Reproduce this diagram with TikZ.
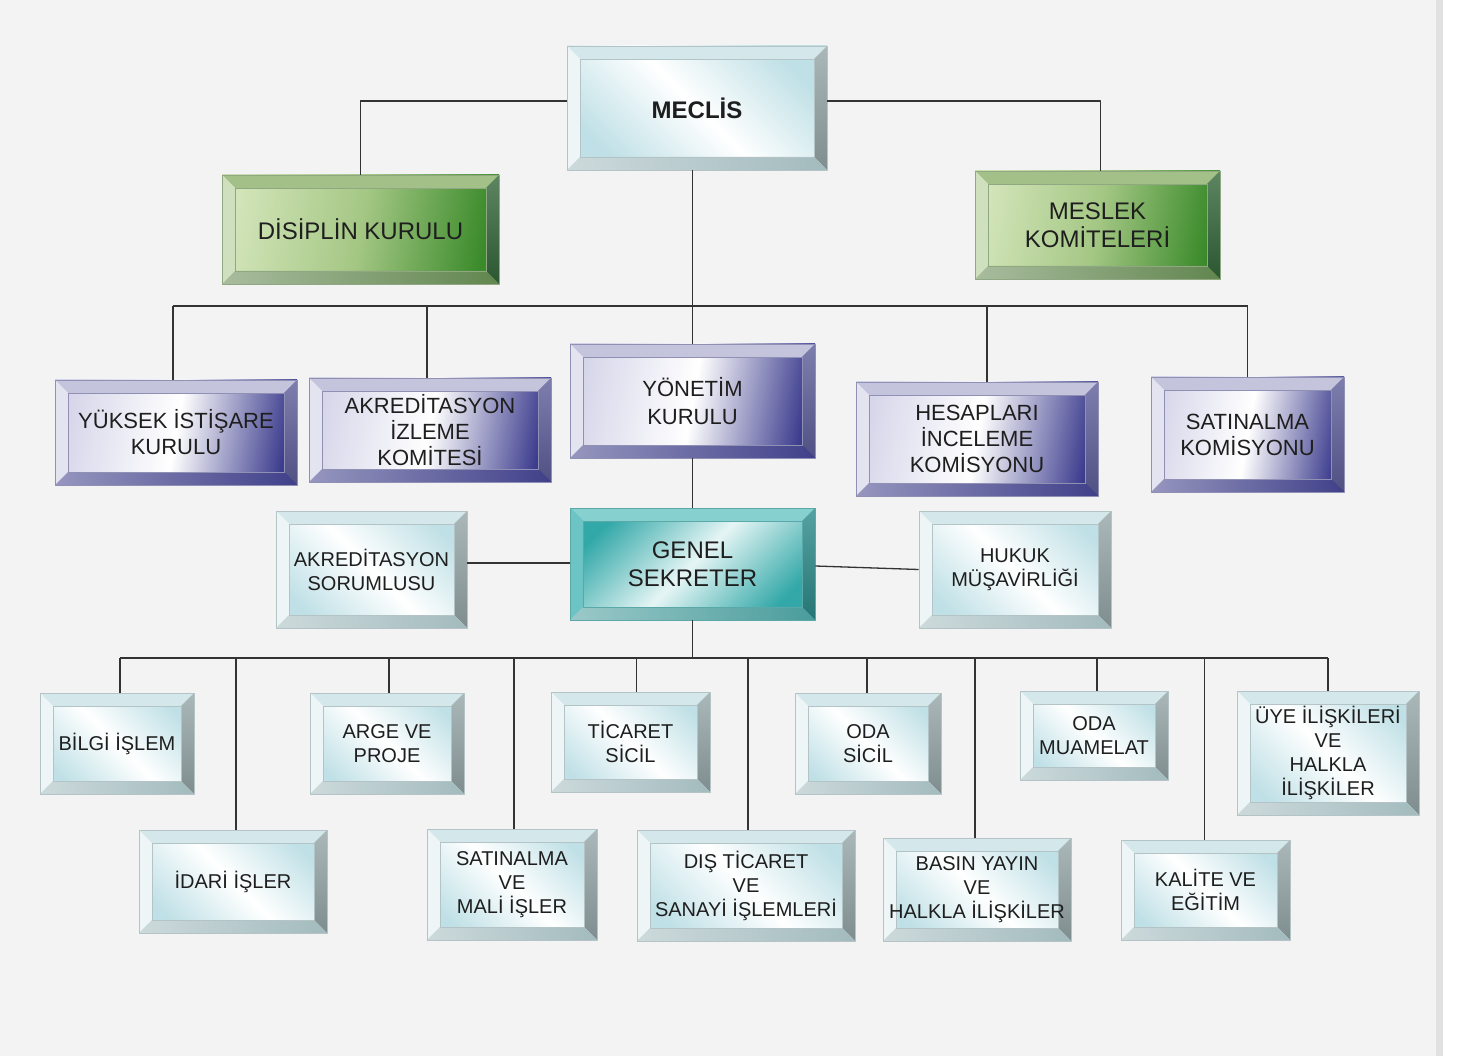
\documentclass[tikz,border=0pt]{standalone}
\usepackage{fontspec}
\setmainfont{Liberation Sans}
% renkler
\definecolor{pagebg}{HTML}{F3F3F3}
\definecolor{stripbg}{HTML}{E1E1E1}
\definecolor{txt}{HTML}{1E1E1E}
\definecolor{wire}{HTML}{333333}
\definecolor{iceA}{HTML}{BFE0E6}\definecolor{iceT}{HTML}{D4E7EA}\definecolor{iceL}{HTML}{EEF5F6}
\definecolor{iceR}{HTML}{95A6A8}\definecolor{iceD}{HTML}{A3BBBE}\definecolor{iceedge}{HTML}{B4C4C6}
\definecolor{grnA}{HTML}{D2E4B8}\definecolor{grnM}{HTML}{A4C784}\definecolor{grnB}{HTML}{3A8A2A}
\definecolor{grnT}{HTML}{A2C088}\definecolor{grnL}{HTML}{CFE0BF}\definecolor{grnR}{HTML}{34663A}
\definecolor{grnD}{HTML}{62864F}\definecolor{grnedge}{HTML}{8FA882}
\definecolor{purA}{HTML}{D6D6EA}\definecolor{purB}{HTML}{3C3C8E}
\definecolor{purT}{HTML}{C4C4DC}\definecolor{purL}{HTML}{E4E4F0}\definecolor{purR}{HTML}{5E5E9A}
\definecolor{purD}{HTML}{40408A}\definecolor{puredge}{HTML}{9090B4}
\definecolor{tealA}{HTML}{33A8A8}\definecolor{tealM}{HTML}{E6F5F5}
\definecolor{tealT}{HTML}{86D0D0}\definecolor{tealL}{HTML}{6CC4C4}\definecolor{tealR}{HTML}{2C8A8A}
\definecolor{tealD}{HTML}{4A9C9C}\definecolor{tealedge}{HTML}{5AA8A8}
% kabartma kenarlari
\newcommand\bevelfaces[1]{%
  \path (path picture bounding box.north west) coordinate (b1)
        (path picture bounding box.north east) coordinate (b2)
        (path picture bounding box.south east) coordinate (b3)
        (path picture bounding box.south west) coordinate (b4)
        ([xshift=13pt,yshift=-13pt]path picture bounding box.north west) coordinate (c1)
        ([xshift=-13pt,yshift=-13pt]path picture bounding box.north east) coordinate (c2)
        ([xshift=-13pt,yshift=13pt]path picture bounding box.south east) coordinate (c3)
        ([xshift=13pt,yshift=13pt]path picture bounding box.south west) coordinate (c4);
  \fill[#1T] (b1) -- (b2) -- (c2) -- (c1) -- cycle;
  \fill[#1L] (b1) -- (c1) -- (c4) -- (b4) -- cycle;
  \shade[top color=#1R!80!white, bottom color=#1R!85!black] (b2) -- (b3) -- (c3) -- (c2) -- cycle;
  \shade[left color=#1D!55!white, right color=#1D] (b4) -- (c4) -- (c3) -- (b3) -- cycle;
  \draw[#1edge, line width=0.4pt] (c1) rectangle (c3);
}
\tikzset{
  bevelbox/.style={rectangle, inner sep=0pt, align=center, text=txt, draw=#1edge,
    line width=0.6pt, path picture={\bevelfaces{#1}}},
  icebox/.style={bevelbox=ice, left color=iceA, right color=iceA, middle color=white, shading angle=135},
  grnbox/.style={bevelbox=grn, left color=grnA, right color=grnB, middle color=grnM, shading angle=80},
  purbox/.style={bevelbox=pur, left color=purA, right color=purB, middle color=white, shading angle=80},
  tealbox/.style={bevelbox=teal, left color=tealA, right color=tealA, middle color=tealM, shading angle=45},
  txtL/.style={font=\fontsize{24}{28}\selectfont},
  txtM/.style={font=\fontsize{22}{26}\selectfont},
  txtS/.style={font=\fontsize{20}{24}\selectfont},
  link/.style={draw=wire, line width=1.3pt},
}
\begin{document}
\begin{tikzpicture}[x=1pt, y=-1pt, line join=round]
  \fill[pagebg] (0,0) rectangle (1436,1056);
  \fill[stripbg] (1436,0) rectangle (1443,1056);
  \fill[white] (1443,0) rectangle (1462,1056);
  \useasboundingbox (0,0) rectangle (1462,1056);
  \coordinate (busA) at (0,306);
  \coordinate (busB) at (0,658);
  % ust kisim
  \node[icebox, txtL, minimum width=260pt, minimum height=124pt] (meclis) at (697,108) {\textbf{MECLİS}};
  \node[grnbox, txtL, minimum width=277pt, minimum height=109pt] (disiplin) at (360.5,229.5) {DİSİPLİN KURULU};
  \node[grnbox, txtL, minimum width=245pt, minimum height=108pt] (meslek) at (1097.5,225) {MESLEK\\KOMİTELERİ};
  % kurullar
  \node[purbox, txtM, minimum width=242pt, minimum height=105pt] (yuksek) at (176,432.5) {YÜKSEK İSTİŞARE\\KURULU};
  \node[purbox, txtM, minimum width=242pt, minimum height=104pt] (akrizl) at (430,430) {AKREDİTASYON\\İZLEME\\KOMİTESİ};
  \node[purbox, txtM, font=\fontsize{22}{28}\selectfont, minimum width=245pt, minimum height=114pt] (yonetim) at (692.5,401) {YÖNETİM\\KURULU};
  \node[purbox, txtM, minimum width=242pt, minimum height=114pt] (hesap) at (977,439) {HESAPLARI\\İNCELEME\\KOMİSYONU};
  \node[purbox, txtM, minimum width=193pt, minimum height=115pt] (satin) at (1247.5,434.5) {SATINALMA\\KOMİSYONU};
  % genel sekreter
  \node[tealbox, txtL, minimum width=245pt, minimum height=112pt] (gs) at (692.5,564) {GENEL\\SEKRETER};
  \node[icebox, txtS, minimum width=191pt, minimum height=117pt] (akrsor) at (371.5,569.5) {AKREDİTASYON\\SORUMLUSU};
  \node[icebox, txtS, minimum width=192pt, minimum height=117pt] (hukuk) at (1015,569.5) {HUKUK\\MÜŞAVİRLİĞİ};
  % birimler
  \node[icebox, txtS, minimum width=154pt, minimum height=101pt] (bilgi) at (117,743.5) {BİLGİ İŞLEM};
  \node[icebox, txtS, minimum width=188pt, minimum height=103pt] (idari) at (233,881.5) {İDARİ İŞLER};
  \node[icebox, txtS, minimum width=154pt, minimum height=101pt] (arge) at (387,743.5) {ARGE VE\\PROJE};
  \node[icebox, txtS, minimum width=170pt, minimum height=111pt] (satmali) at (512,884.5) {SATINALMA\\VE\\MALİ İŞLER};
  \node[icebox, txtS, minimum width=159pt, minimum height=100pt] (ticaret) at (630.5,742) {TİCARET\\SİCİL};
  \node[icebox, txtS, minimum width=218pt, minimum height=111pt] (dis) at (746,885.5) {DIŞ TİCARET\\VE\\SANAYİ İŞLEMLERİ};
  \node[icebox, txtS, minimum width=146pt, minimum height=101pt] (odasicil) at (868,743.5) {ODA\\SİCİL};
  \node[icebox, txtS, minimum width=188pt, minimum height=103pt] (basin) at (977,889.5) {BASIN YAYIN\\VE\\HALKLA İLİŞKİLER};
  \node[icebox, txtS, minimum width=148pt, minimum height=89pt] (odamua) at (1094,735.5) {ODA\\MUAMELAT};
  \node[icebox, txtS, minimum width=169pt, minimum height=100pt] (kalite) at (1205.5,890) {KALİTE VE\\EĞİTİM};
  \node[icebox, txtS, minimum width=182pt, minimum height=124pt] (uye) at (1328,753) {ÜYE İLİŞKİLERİ\\VE\\HALKLA\\İLİŞKİLER};
  % baglantilar
  \draw[link] ([yshift=7pt]meclis.west) -| (disiplin.north);
  \draw[link] ([yshift=7pt]meclis.east) -| ([xshift=3pt]meslek.north);
  \draw[link] (meclis.south -| yonetim.north) -- (yonetim.north);
  \draw[link] ([xshift=-3pt]yuksek.north |- busA) -- (satin.north |- busA);
  \draw[link] ([xshift=-3pt]yuksek.north) -- ([xshift=-3pt]yuksek.north |- busA);
  \draw[link] ([xshift=-3pt]akrizl.north) -- ([xshift=-3pt]akrizl.north |- busA);
  \draw[link] ([xshift=10pt]hesap.north) -- ([xshift=10pt]hesap.north |- busA);
  \draw[link] (satin.north) -- (satin.north |- busA);
  \draw[link] (yonetim.south) -- (gs.north);
  \draw[link] ([yshift=1pt]gs.west) -- ([yshift=1pt]gs.west -| akrsor.east);
  \draw[link] ([yshift=-2pt]gs.east) -- (hukuk.west);
  \draw[link] (gs.south) -- (gs.south |- busB);
  \draw[link] ([xshift=3pt]bilgi.north |- busB) -- (uye.north |- busB);
  \foreach \n/\dx in {bilgi/3, idari/3, arge/2, satmali/2, ticaret/6, dis/2, odasicil/-1, basin/-2, odamua/3, kalite/-1, uye/0}
    \draw[link] ([xshift=\dx pt]\n.north) -- ([xshift=\dx pt]\n.north |- busB);
\end{tikzpicture}
\end{document}
